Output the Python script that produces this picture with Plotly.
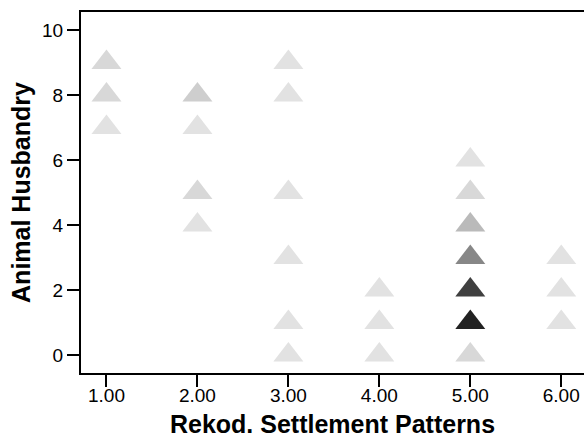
import plotly.graph_objects as go

# Settlement pattern code (x), animal husbandry score (y), number of cases at that point
settlement = [1, 1, 1,
              2, 2, 2, 2,
              3, 3, 3, 3, 3, 3,
              4, 4, 4,
              5, 5, 5, 5, 5, 5, 5,
              6, 6, 6]
husbandry = [9, 8, 7,
             8, 7, 5, 4,
             9, 8, 5, 3, 1, 0,
             2, 1, 0,
             6, 5, 4, 3, 2, 1, 0,
             3, 2, 1]
case_count = [2, 2, 1,
              3, 1, 2, 1,
              1, 1, 1, 1, 1, 1,
              1, 1, 1,
              1, 2, 5, 10, 17, 20, 2,
              1, 1, 1]

x_ticks = [1, 2, 3, 4, 5, 6]
x_ticklabels = ["1.00", "2.00", "3.00", "4.00", "5.00", "6.00"]
y_ticks = [0, 2, 4, 6, 8, 10]

FONT = "Arial, Liberation Sans, Helvetica, sans-serif"

fig = go.Figure(go.Scatter(
    x=settlement, y=husbandry, mode="markers",
    marker=dict(symbol="triangle-up", size=26, color=case_count,
                colorscale=[[0, "#e2e2e2"], [1, "#222222"]],
                cmin=1, cmax=20, showscale=False, line=dict(width=0)),
    hoverinfo="x+y",
))

fig.update_layout(
    width=584, height=444,
    margin=dict(l=81, r=0, t=12, b=71, pad=0),
    paper_bgcolor="white", plot_bgcolor="white",
    font=dict(family=FONT, color="black"),
    showlegend=False,
)
fig.update_xaxes(
    range=[0.72, 6.25], tickvals=x_ticks, ticktext=x_ticklabels,
    ticks="outside", ticklen=12, tickwidth=2, tickcolor="black",
    showline=True, linewidth=2, linecolor="black", mirror=True,
    showgrid=False, zeroline=False, automargin=False,
    ticklabelstandoff=-8,
    tickfont=dict(size=19, family=FONT, color="black"),
    title=dict(text="<b>Rekod. Settlement Patterns</b>", standoff=11,
               font=dict(size=25, family=FONT, color="black")),
)
fig.update_yaxes(
    range=[-0.554, 10.554], tickvals=y_ticks,
    ticks="outside", ticklen=12, tickwidth=2, tickcolor="black",
    showline=True, linewidth=2, linecolor="black", mirror=False,
    showgrid=False, zeroline=False, automargin=False,
    tickfont=dict(size=19, family=FONT, color="black"),
    title=dict(text="<b>Animal Husbandry</b>", standoff=4,
               font=dict(size=25, family=FONT, color="black")),
)

fig.write_html("out.html", config={"displayModeBar": False},
               post_script="document.body.style.margin='0px';")
